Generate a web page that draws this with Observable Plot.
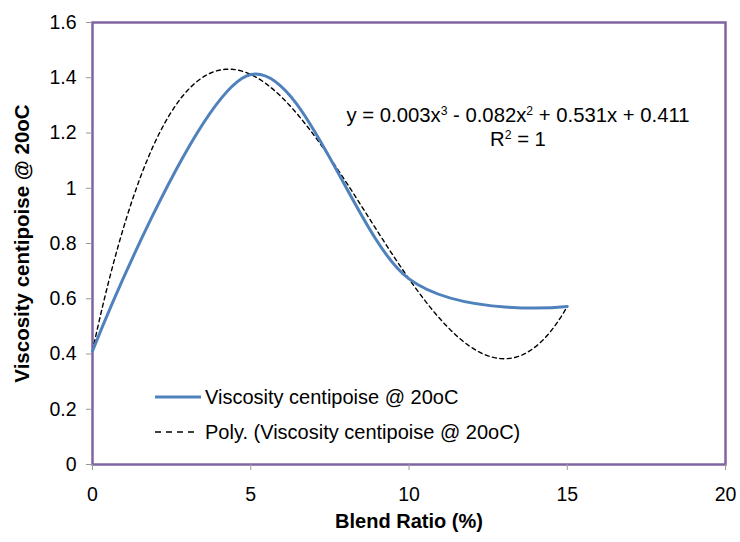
<!DOCTYPE html>
<html>
<head>
<meta charset="utf-8">
<script src="https://cdn.jsdelivr.net/npm/d3@7"></script>
<script src="https://cdn.jsdelivr.net/npm/@observablehq/plot@0.6"></script>
<style>
  html, body { margin: 0; padding: 0; background: #fff; }
  #wrap { position: relative; width: 740px; height: 542px; font-family: "Liberation Sans", Arial, sans-serif; color: #000; }
  .ov { position: absolute; font-size: 20px; white-space: nowrap; line-height: 1; }
  .ov sup { font-size: 0.6em; vertical-align: 0.55em; line-height: 0; }
</style>
</head>
<body>
<div id="wrap"></div>
<script>
// Data
const blendRatio = [0, 5, 10, 15];
const viscosity = [0.411, 1.412, 0.672, 0.572];
const xTicks = [0, 5, 10, 15, 20];
const yTicks = [0, 0.2, 0.4, 0.6, 0.8, 1, 1.2, 1.4, 1.6];
const seriesName = "Viscosity centipoise @ 20oC";
const trendName = "Poly. (Viscosity centipoise @ 20oC)";
const xTitle = "Blend Ratio (%)";
const yTitle = "Viscosity centipoise @ 20oC";

const data = blendRatio.map((x, i) => ({x, y: viscosity[i]}));

// Order-3 polynomial trendline fitted (least squares) to the data
function polyFit(xs, ys, order) {
  const n = order + 1;
  const A = Array.from({length: n}, () => new Array(n + 1).fill(0));
  for (let r = 0; r < n; r++) {
    for (let c = 0; c < n; c++) A[r][c] = d3.sum(xs, x => Math.pow(x, r + c));
    A[r][n] = d3.sum(xs, (x, i) => ys[i] * Math.pow(x, r));
  }
  for (let i = 0; i < n; i++) {
    let p = i;
    for (let k = i + 1; k < n; k++) if (Math.abs(A[k][i]) > Math.abs(A[p][i])) p = k;
    [A[i], A[p]] = [A[p], A[i]];
    for (let k = 0; k < n; k++) {
      if (k === i) continue;
      const f = A[k][i] / A[i][i];
      for (let j = i; j <= n; j++) A[k][j] -= f * A[i][j];
    }
  }
  return A.map((row, i) => row[n] / row[i]);
}
const coef = polyFit(blendRatio, viscosity, 3);
const evalPoly = x => coef.reduce((s, c, i) => s + c * Math.pow(x, i), 0);
const trend = d3.range(0, 15.0001, 0.1).map(x => ({x, y: evalPoly(x)}));

const chart = Plot.plot({
  width: 740,
  height: 542,
  marginLeft: 92,
  marginRight: 15,
  marginTop: 22,
  marginBottom: 78,
  style: {fontFamily: "'Liberation Sans', Arial, sans-serif", fontSize: "19.5px", color: "#000", background: "#fff", overflow: "visible"},
  x: {domain: [0, 20]},
  y: {domain: [0, 1.6]},
  marks: [
    Plot.frame({stroke: "#8064A2", strokeWidth: 2.5}),
    Plot.axisX({ticks: xTicks, tickSize: 6, tickPadding: 17, stroke: "#999", strokeOpacity: 1, tickFormat: d3.format("~g"), label: null, fill: "#000"}),
    Plot.axisY({ticks: yTicks, tickSize: 6, tickPadding: 10, stroke: "#999", strokeOpacity: 1, tickFormat: d3.format("~g"), label: null, fill: "#000"}),
    Plot.line(trend, {x: "x", y: "y", stroke: "#000", strokeWidth: 1.4, strokeDasharray: "4,3.5"}),
    Plot.line(data, {x: "x", y: "y", stroke: "#4F81BD", strokeWidth: 3, curve: "cardinal"}),
    Plot.text([xTitle], {frameAnchor: "bottom", dy: 63, fontWeight: "bold", fontSize: 20}),
    Plot.text([yTitle], {frameAnchor: "left", dx: -70, rotate: -90, textAnchor: "middle", fontWeight: "bold", fontSize: 20.5})
  ]
});

const wrap = document.getElementById("wrap");
wrap.appendChild(chart);

// Trendline equation
const eq = document.createElement("div");
eq.className = "ov";
eq.style.left = "518px"; eq.style.top = "103px"; eq.style.transform = "translateX(-50%)"; eq.style.textAlign = "center"; eq.style.lineHeight = "24px";
eq.style.fontSize = "20.3px";
eq.innerHTML = "y = 0.003x<sup>3</sup> - 0.082x<sup>2</sup> + 0.531x + 0.411<br>R<sup>2</sup> = 1";
wrap.appendChild(eq);

// Legend
function legendRow(top, name, dashed) {
  const row = document.createElement("div");
  row.className = "ov";
  row.style.left = "155px"; row.style.top = (top - 12) + "px";
  row.style.display = "flex"; row.style.alignItems = "center"; row.style.height = "24px";
  const ns = "http://www.w3.org/2000/svg";
  const s = document.createElementNS(ns, "svg");
  s.setAttribute("width", "50"); s.setAttribute("height", "10");
  const l = document.createElementNS(ns, "line");
  l.setAttribute("x1", "0"); l.setAttribute("x2", dashed ? "43" : "46");
  l.setAttribute("y1", "5"); l.setAttribute("y2", "5");
  l.setAttribute("stroke", dashed ? "#000" : "#4F81BD");
  l.setAttribute("stroke-width", dashed ? "1.4" : "3");
  if (dashed) l.setAttribute("stroke-dasharray", "6,5");
  s.appendChild(l);
  row.appendChild(s);
  const t = document.createElement("span");
  t.textContent = name;
  row.appendChild(t);
  wrap.appendChild(row);
}
legendRow(397, seriesName, false);
legendRow(432, trendName, true);
</script>
</body>
</html>
